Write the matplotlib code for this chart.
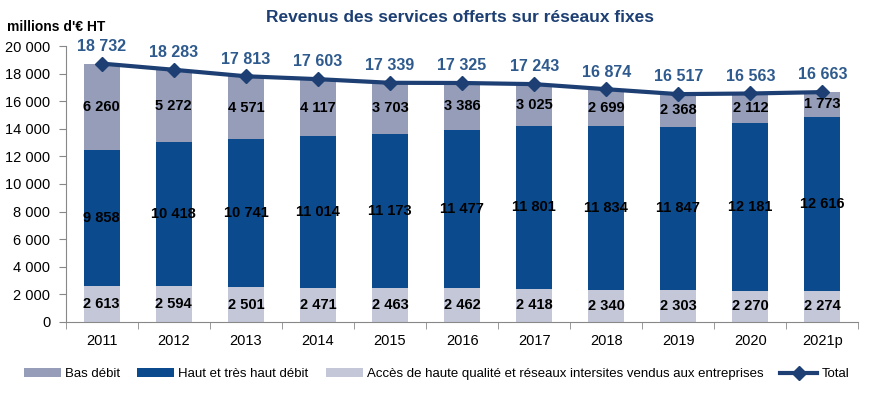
import matplotlib.pyplot as plt
import numpy as np

annees = ['2011', '2012', '2013', '2014', '2015', '2016', '2017', '2018', '2019', '2020', '2021p']
acces = [2613, 2594, 2501, 2471, 2463, 2462, 2418, 2340, 2303, 2270, 2274]
haut_debit = [9858, 10418, 10741, 11014, 11173, 11477, 11801, 11834, 11847, 12181, 12616]
bas_debit = [6260, 5272, 4571, 4117, 3703, 3386, 3025, 2699, 2368, 2112, 1773]
total = [18732, 18283, 17813, 17603, 17339, 17325, 17243, 16874, 16517, 16563, 16663]

plt.rcParams['font.family'] = ['Liberation Sans', 'DejaVu Sans']

def fmt(v):
    return f"{v:,}".replace(',', ' ')

c_acces = '#c4c7d8'
c_haut = '#0b4a8c'
c_bas = '#959db9'
c_total = '#1d3f73'

fig = plt.figure(figsize=(8.76, 3.94), dpi=100)
ax = fig.add_axes([0.075, 0.183, 0.905, 0.70])
x = np.arange(len(annees))
w = 0.5

ax.bar(x, acces, w, color=c_acces, label='Accès de haute qualité et réseaux intersites vendus aux entreprises')
ax.bar(x, haut_debit, w, bottom=acces, color=c_haut, label='Haut et très haut débit')
bas_bottom = np.array(acces) + np.array(haut_debit)
ax.bar(x, bas_debit, w, bottom=bas_bottom, color=c_bas, label='Bas débit')
ax.plot(x, total, color=c_total, lw=3, marker='D', ms=7, label='Total')

for i in range(len(x)):
    ax.text(x[i], acces[i] / 2, fmt(acces[i]), ha='center', va='center', fontsize=10.5, fontweight='bold')
    ax.text(x[i], acces[i] + haut_debit[i] / 2, fmt(haut_debit[i]), ha='center', va='center', fontsize=10.5, fontweight='bold')
    ax.text(x[i], bas_bottom[i] + bas_debit[i] / 2, fmt(bas_debit[i]), ha='center', va='center', fontsize=10.5, fontweight='bold')
    ax.text(x[i], total[i] + 700, fmt(total[i]), ha='center', va='bottom', fontsize=11.5, fontweight='bold', color='#2e5a8e')

ax.set_ylim(0, 20000)
ax.set_xlim(-0.5, len(x) - 0.5)
ax.set_yticks(range(0, 20001, 2000))
ax.set_yticklabels([fmt(v) for v in range(0, 20001, 2000)], fontsize=10.5)
ax.set_xticks(x)
ax.set_xticklabels(annees, fontsize=10.5)
ax.set_xticks(np.arange(-0.5, len(x), 1), minor=True)
ax.tick_params(axis='x', which='major', length=0, pad=9)
ax.tick_params(axis='x', which='minor', length=5, color='#888888')
ax.tick_params(axis='y', length=5, color='#888888', pad=6)
for s in ['top', 'right']:
    ax.spines[s].set_visible(False)
ax.spines['left'].set_color('#888888')
ax.spines['bottom'].set_color('#888888')

fig.text(0.525, 0.955, 'Revenus des services offerts sur réseaux fixes', ha='center', va='center',
         fontsize=12.5, fontweight='bold', color='#1d3f73')
fig.text(0.008, 0.932, "millions d'€ HT", ha='left', va='center', fontsize=10, fontweight='bold')

h, l = ax.get_legend_handles_labels()
order = [3, 2, 1, 0]
ax.legend([h[k] for k in order], [l[k] for k in order], loc='center', bbox_to_anchor=(0.468, -0.19),
          ncol=4, frameon=False, fontsize=9.5, handlelength=2.8, columnspacing=1.3, handletextpad=0.3)

fig.savefig('out.png', dpi=100)
